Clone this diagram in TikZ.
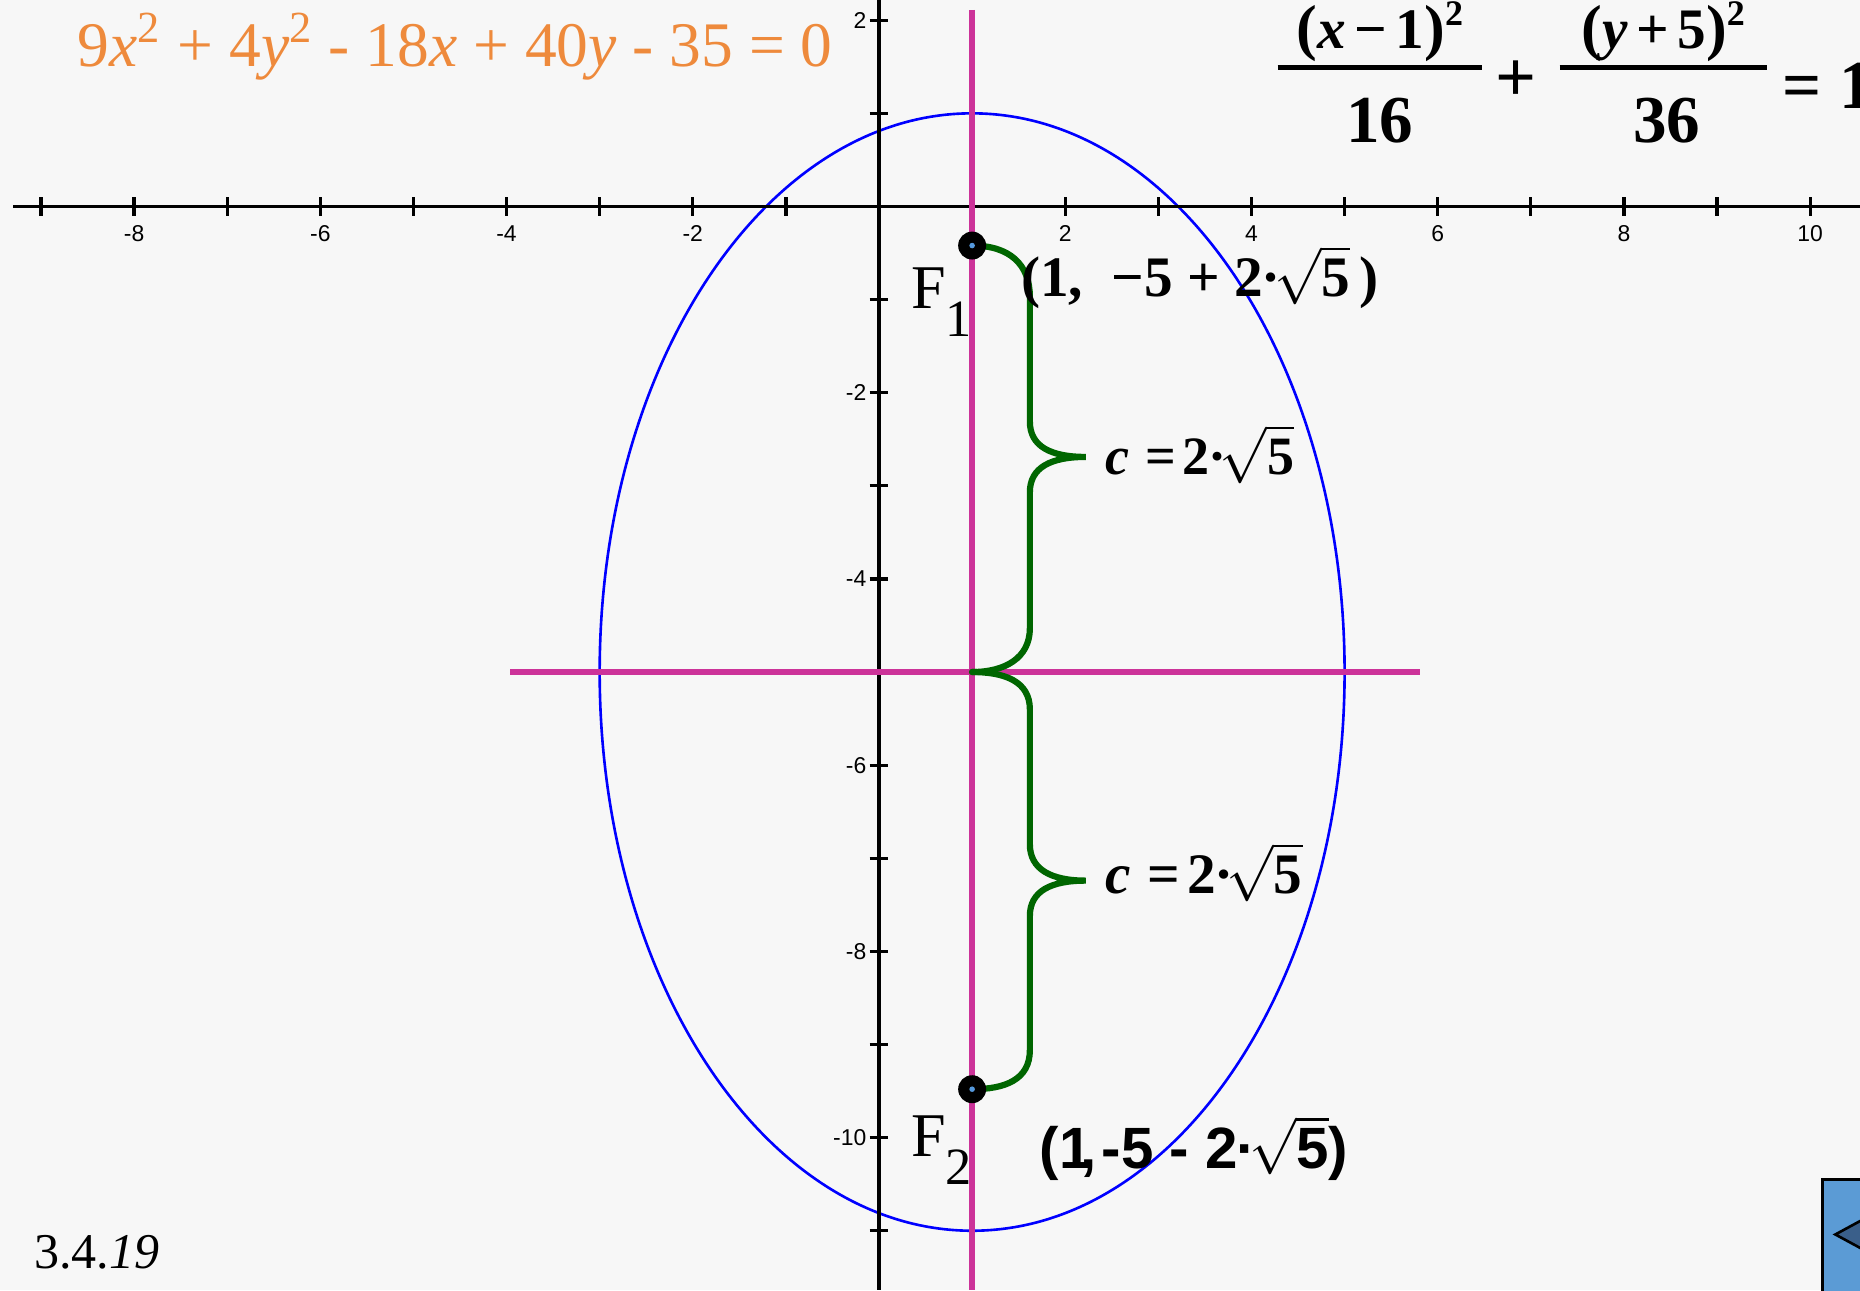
\documentclass[tikz,border=0pt]{standalone}
\usepackage{fontspec}
\setmainfont{Liberation Serif}
\setsansfont{Liberation Sans}
\usepackage{tikz}
\usetikzlibrary{positioning,calc}
\definecolor{bgGray}{HTML}{F7F7F7}
\definecolor{eqOrange}{HTML}{EE8A3C}
\definecolor{axMagenta}{HTML}{CC3399}
\definecolor{brGreen}{HTML}{006600}
\definecolor{ellBlue}{HTML}{0000FF}
\definecolor{dotBlue}{HTML}{5599DD}
\definecolor{btnBlue}{HTML}{5B9BD5}
\definecolor{btnDark}{HTML}{3A5F8A}
\newcommand{\rtfive}{2\kern-0.02em·\kern-0.12em$\sqrt{\mbox{5}}$}
\newcommand{\subidx}[1]{\raisebox{-0.45em}{\fontsize{16}{16}\selectfont #1}}
\newcommand{\bigpar}[1]{{\fontsize{19}{19}\selectfont #1}}
\newcommand{\supsq}{\raisebox{0.4em}{\fontsize{11}{11}\selectfont 2}}

\begin{document}
\begin{tikzpicture}[x=1cm, y=1cm, every node/.append style={inner sep=0pt},
  tck/.style={font=\fontsize{7}{7}\selectfont\sffamily},
  brc/.style={draw=brGreen, line width=1.9pt, line cap=round},
  big/.style={font=\fontsize{#1}{#1}\selectfont},
  bigb/.style={font=\fontsize{#1}{#1}\selectfont\bfseries},
  bigsb/.style={font=\fontsize{#1}{#1}\selectfont\sffamily\bfseries}]
\useasboundingbox (-9.44,-11.64) rectangle (10.535,2.217);
\fill[bgGray] (-9.44,-11.64) rectangle (10.535,2.217);
\begin{scope}
\clip (-9.44,-11.64) rectangle (10.535,2.217);
% ellipse (x-1)^2/16 + (y+5)^2/36 = 1
\draw[ellBlue, line width=0.8pt] (1,-5) ellipse (4 and 6);
% axes
\draw[line width=1pt] (-9.3,0) -- (10.535,0);
\draw[line width=1pt] (0,2.217) -- (0,-11.64);
\foreach \i in {-9,...,10} \draw[line width=1pt] (\i,0.1) -- (\i,-0.1);
\foreach \i in {-8,-6,-4,-2,2,4,6,8,10} \node[tck, anchor=north] at (\i,-0.2) {\i};
\foreach \j in {2,1,-1,-2,...,-11} \draw[line width=1pt] (-0.1,\j) -- (0.1,\j);
\foreach \j in {2,-2,-4,-6,-8,-10} \node[tck, anchor=east] at (-0.13,\j) {\j};
% major and minor axes
\draw[axMagenta, line width=1.8pt] (1,2.11) -- (1,-11.64);
\draw[axMagenta, line width=1.8pt] (-3.96,-5) -- (5.81,-5);
% foci and braces
\coordinate (F1) at (1,-0.42);
\coordinate (C) at (1,-5);
\coordinate (F2) at (1,-9.48);
\coordinate (tipA) at (2.22,-2.69);
\coordinate (tipB) at (2.22,-7.24);
\draw[brc] (F1) .. controls (1.4,-0.42) and (1.62,-0.62) .. (1.62,-0.97) -- (1.62,-2.31)
  .. controls (1.62,-2.58) and (1.85,-2.69) .. (tipA)
  .. controls (1.85,-2.69) and (1.62,-2.8) .. (1.62,-3.07) -- (1.62,-4.53)
  .. controls (1.62,-4.85) and (1.35,-5) .. (C);
\draw[brc] (C) .. controls (1.35,-5) and (1.62,-5.1) .. (1.62,-5.4) -- (1.62,-6.85)
  .. controls (1.62,-7.12) and (1.85,-7.24) .. (tipB)
  .. controls (1.85,-7.24) and (1.62,-7.35) .. (1.62,-7.62) -- (1.62,-9.06)
  .. controls (1.62,-9.38) and (1.35,-9.48) .. (F2);
\fill (F1) circle (0.15);
\fill (F2) circle (0.15);
\fill[dotBlue] (F1) circle (0.03);
\fill[dotBlue] (F2) circle (0.03);
% labels
\node[bigb=16.5, anchor=base west] (cA) at (2.42,-2.88) {\textit{c}\hspace{0.3em}=\hspace{0.12em}\rtfive};
\node[bigb=17.5, anchor=base west] (cB) at (2.42,-7.38) {\textit{c}\hspace{0.3em}=\hspace{0.12em}\rtfive};
\node[big=19, anchor=base west] (lF1) at (0.34,-1.10) {F\subidx{1}};
\node[big=19, anchor=base west] (lF2) at (0.34,-10.2) {F\subidx{2}};
\node[bigb=17.5, anchor=base west] (pF1) at (1.52,-0.97) {(1,\ \ −5 + \rtfive\,)};
\node[bigsb=17.8, anchor=base west] (pF2) at (1.72,-10.33) {(1\kern-.2em,\kern.1em-5 - \rtfive)};
% equations
\node[big=19.4, text=eqOrange, anchor=base west] (gen) at (-8.61,1.50)
  {9\textit{x}\textsuperscript{2} + 4\textit{y}\textsuperscript{2} - 18\textit{x} + 40\textit{y} - 35 = 0};
\node[bigb=17.5, anchor=base] (n1) at (5.38,1.70) {\bigpar{(}\textit{x}\kern.15em−\kern.15em1\bigpar{)}\supsq};
\node[bigb=20.5, anchor=base] (d1) at (5.38,0.688) {16};
\draw[line width=1.5pt] (4.28,1.49) -- (6.48,1.49);
\node[bigb=22] (pl) at (6.84,1.35) {+};
\node[bigb=17.5, anchor=base] (n2) at (8.42,1.70) {\bigpar{(}\textit{y}\kern.15em+\kern.15em5\bigpar{)}\supsq};
\node[bigb=20.5, anchor=base] (d2) at (8.46,0.688) {36};
\draw[line width=1.5pt] (7.31,1.49) -- (9.54,1.49);
\node[bigb=21, anchor=west] (eq) at (9.7,1.30) {= 1};
\node[big=15.3, anchor=base west] (sec) at (-9.08,-11.41) {3.4.\textit{19}};
% button
\filldraw[fill=btnBlue, draw=black, line width=1pt] (10.13,-10.45) rectangle (10.9,-11.9);
\filldraw[fill=btnDark, draw=black, line width=0.8pt] (10.27,-11.04) -- (10.75,-10.78) -- (10.75,-11.30) -- cycle;
\end{scope}
\end{tikzpicture}
\end{document}
